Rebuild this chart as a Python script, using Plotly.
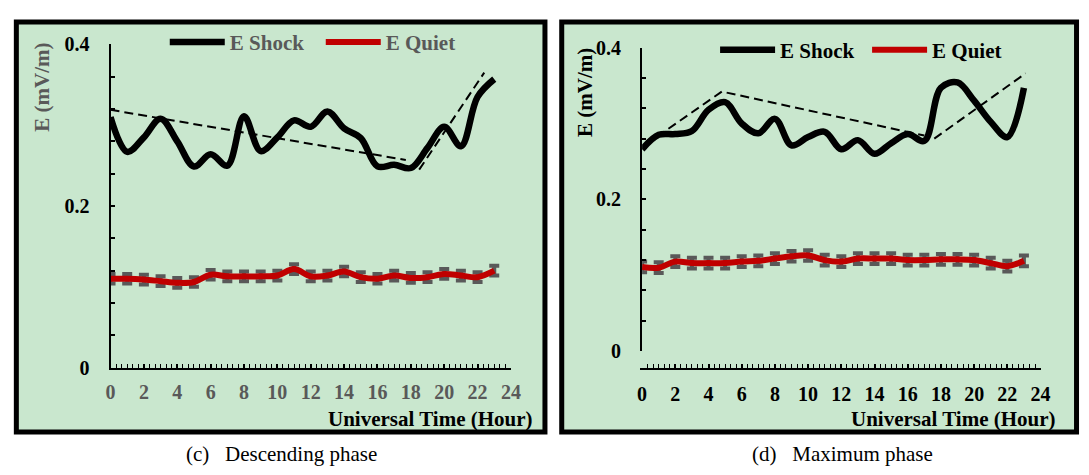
import plotly.graph_objects as go

W, H = 1089, 475

# ---------------- data ----------------
hours = list(range(24))

shock_c = [0.310, 0.267, 0.285, 0.308, 0.280, 0.249, 0.264, 0.250, 0.311, 0.268, 0.285, 0.306,
           0.298, 0.317, 0.296, 0.284, 0.249, 0.251, 0.247, 0.272, 0.298, 0.274, 0.335, 0.357]
quiet_c = [0.110, 0.110, 0.109, 0.107, 0.105, 0.106, 0.115, 0.113, 0.113, 0.113, 0.114, 0.122,
           0.113, 0.114, 0.119, 0.112, 0.110, 0.114, 0.111, 0.112, 0.116, 0.114, 0.112, 0.120]
err_c = [0.006, 0.006, 0.006, 0.006, 0.006, 0.006, 0.006, 0.006, 0.006, 0.006, 0.006, 0.006,
         0.006, 0.006, 0.006, 0.006, 0.006, 0.006, 0.006, 0.006, 0.006, 0.006, 0.006, 0.006]
trend_c1_x = [0.0, 17.7]
trend_c1_y = [0.319, 0.257]
trend_c2_x = [18.5, 22.4]
trend_c2_y = [0.245, 0.365]

shock_d = [0.266, 0.285, 0.286, 0.290, 0.318, 0.328, 0.300, 0.287, 0.306, 0.271, 0.282, 0.289,
           0.266, 0.278, 0.260, 0.274, 0.286, 0.277, 0.347, 0.354, 0.330, 0.302, 0.282, 0.347]
quiet_d = [0.111, 0.110, 0.118, 0.116, 0.116, 0.116, 0.118, 0.119, 0.122, 0.125, 0.126, 0.120,
           0.118, 0.122, 0.122, 0.122, 0.120, 0.120, 0.121, 0.121, 0.120, 0.116, 0.112, 0.119]
err_d = [0.007, 0.007, 0.007, 0.007, 0.007, 0.007, 0.007, 0.007, 0.007, 0.007, 0.007, 0.007,
         0.007, 0.007, 0.007, 0.007, 0.007, 0.007, 0.007, 0.007, 0.007, 0.007, 0.007, 0.007]
trend_d1_x = [0.2, 4.8, 17.0]
trend_d1_y = [0.272, 0.342, 0.284]
trend_d2_x = [17.6, 23.1]
trend_d2_y = [0.280, 0.366]

x_ticks = [0, 2, 4, 6, 8, 10, 12, 14, 16, 18, 20, 22, 24]
y_ticks = [0, 0.2, 0.4]
y_ticktext = ["0", "0.2", "0.4"]
captions = ["(c)\u00a0\u00a0\u00a0Descending phase", "(d)\u00a0\u00a0\u00a0Maximum phase"]

# ---------------- style ----------------
FONT = "Liberation Serif, Times New Roman, serif"
GREY = "#595959"
GREEN = "#C9E7CE"
RED = "#C00000"


def px_x(p):
    return p / W


def px_y(p):
    return 1 - p / H


fig = go.Figure()


def add_panel(xa, ya, shock, quiet, err, trends, legend_name):
    xref = "x" if xa == 1 else f"x{xa}"
    yref = "y" if ya == 1 else f"y{ya}"
    for tx, ty in trends:
        fig.add_trace(go.Scatter(x=tx, y=ty, mode="lines", xaxis=xref, yaxis=yref,
                                 line=dict(color="black", width=2, dash="9px,5px"),
                                 showlegend=False, hoverinfo="skip"))
    fig.add_trace(go.Scatter(x=hours, y=quiet, mode="markers", xaxis=xref, yaxis=yref,
                             marker=dict(size=1, color="rgba(0,0,0,0)"),
                             error_y=dict(type="data", array=err, color=GREY, thickness=4, width=5),
                             showlegend=False, hoverinfo="skip"))
    fig.add_trace(go.Scatter(x=hours, y=shock, mode="lines", name="E Shock", xaxis=xref, yaxis=yref,
                             line=dict(color="black", width=6.5, shape="spline"),
                             legend=legend_name))
    fig.add_trace(go.Scatter(x=hours, y=quiet, mode="lines", name="E Quiet", xaxis=xref, yaxis=yref,
                             line=dict(color=RED, width=6, shape="spline"),
                             legend=legend_name))


add_panel(1, 1, shock_c, quiet_c, err_c, [(trend_c1_x, trend_c1_y), (trend_c2_x, trend_c2_y)], "legend")
add_panel(2, 2, shock_d, quiet_d, err_d, [(trend_d1_x, trend_d1_y), (trend_d2_x, trend_d2_y)], "legend2")


def xaxis_cfg(x0, x1, label_color, standoff):
    return dict(domain=[px_x(x0), px_x(x1)], range=[0, 24], tickvals=x_ticks,
                ticks="inside", ticklen=4, tickwidth=1.5, tickcolor="black",
                minor=dict(dtick=1 / 3, tick0=0, ticks="inside", ticklen=4, tickwidth=1.2,
                           tickcolor="black", showgrid=False),
                showline=True, linecolor="black", linewidth=2, showgrid=False, zeroline=False,
                tickfont=dict(family=FONT, size=20, color=label_color, weight="bold"),
                ticklabelstandoff=standoff, fixedrange=True)


def yaxis_cfg(y0, y1, anchor):
    return dict(domain=[px_y(y1), px_y(y0)], range=[0, 0.4], tickvals=y_ticks, ticktext=y_ticktext,
                ticks="inside", ticklen=4, tickwidth=1.5, tickcolor="black",
                minor=dict(dtick=0.04, tick0=0, ticks="inside", ticklen=4, tickwidth=1.5,
                           tickcolor="black", showgrid=False),
                showline=True, linecolor="black", linewidth=2, showgrid=False, zeroline=False,
                tickfont=dict(family=FONT, size=20, color="black", weight="bold"),
                ticklabelstandoff=15, anchor=anchor, fixedrange=True)


shapes = [
    dict(type="rect", xref="paper", yref="paper", layer="below",
         x0=px_x(11.5), x1=px_x(547.5), y0=px_y(441.5), y1=px_y(11.5),
         line=dict(color="black", width=5), fillcolor=GREEN),
    dict(type="rect", xref="paper", yref="paper", layer="below",
         x0=px_x(564.5), x1=px_x(1086.5), y0=px_y(441.5), y1=px_y(11.5),
         line=dict(color="black", width=5), fillcolor=GREEN),
]

ann_font_b = dict(family=FONT, size=21, weight="bold")
annotations = [
    dict(text="E (mV/m)", xref="paper", yref="paper", x=px_x(38), y=px_y(80), textangle=-90,
         showarrow=False, font=dict(ann_font_b, color=GREY), xanchor="center", yanchor="middle"),
    dict(text="E (mV/m)", xref="paper", yref="paper", x=px_x(588), y=px_y(85), textangle=-90,
         showarrow=False, font=dict(ann_font_b, color="black"), xanchor="center", yanchor="middle"),
    dict(text="Universal Time (Hour)", xref="paper", yref="paper", x=px_x(537), y=px_y(428),
         showarrow=False, font=dict(ann_font_b, color="black"), xanchor="right", yanchor="middle"),
    dict(text="Universal Time (Hour)", xref="paper", yref="paper", x=px_x(1068), y=px_y(428),
         showarrow=False, font=dict(ann_font_b, color="black"), xanchor="right", yanchor="middle"),
    dict(text=captions[0], xref="paper", yref="paper", x=px_x(280), y=px_y(465),
         showarrow=False, font=dict(family=FONT, size=21, color="black"), xanchor="center", yanchor="middle"),
    dict(text=captions[1], xref="paper", yref="paper", x=px_x(849), y=px_y(465),
         showarrow=False, font=dict(family=FONT, size=21, color="black"), xanchor="center", yanchor="middle"),
]

fig.update_layout(
    width=W, height=H, margin=dict(l=0, r=0, t=0, b=0),
    paper_bgcolor="white", plot_bgcolor="rgba(0,0,0,0)",
    xaxis=xaxis_cfg(107, 513, GREY, 5),
    yaxis=yaxis_cfg(35, 374, "x"),
    xaxis2=xaxis_cfg(646, 1050, "black", 7),
    yaxis2=yaxis_cfg(38.3, 356.7, "x2"),
    shapes=shapes, annotations=annotations,
    legend=dict(orientation="h", x=px_x(162), y=px_y(33), xanchor="left", yanchor="middle",
                bgcolor="rgba(0,0,0,0)", font=dict(family=FONT, size=21, color=GREY, weight="bold"),
                entrywidth=86, itemwidth=55, tracegroupgap=0),
    legend2=dict(orientation="h", x=px_x(720), y=px_y(41), xanchor="left", yanchor="middle",
                 bgcolor="rgba(0,0,0,0)", font=dict(family=FONT, size=21, color="black", weight="bold"),
                 entrywidth=82, itemwidth=55, tracegroupgap=0),
    showlegend=True,
)

fig.write_html("out.html")
